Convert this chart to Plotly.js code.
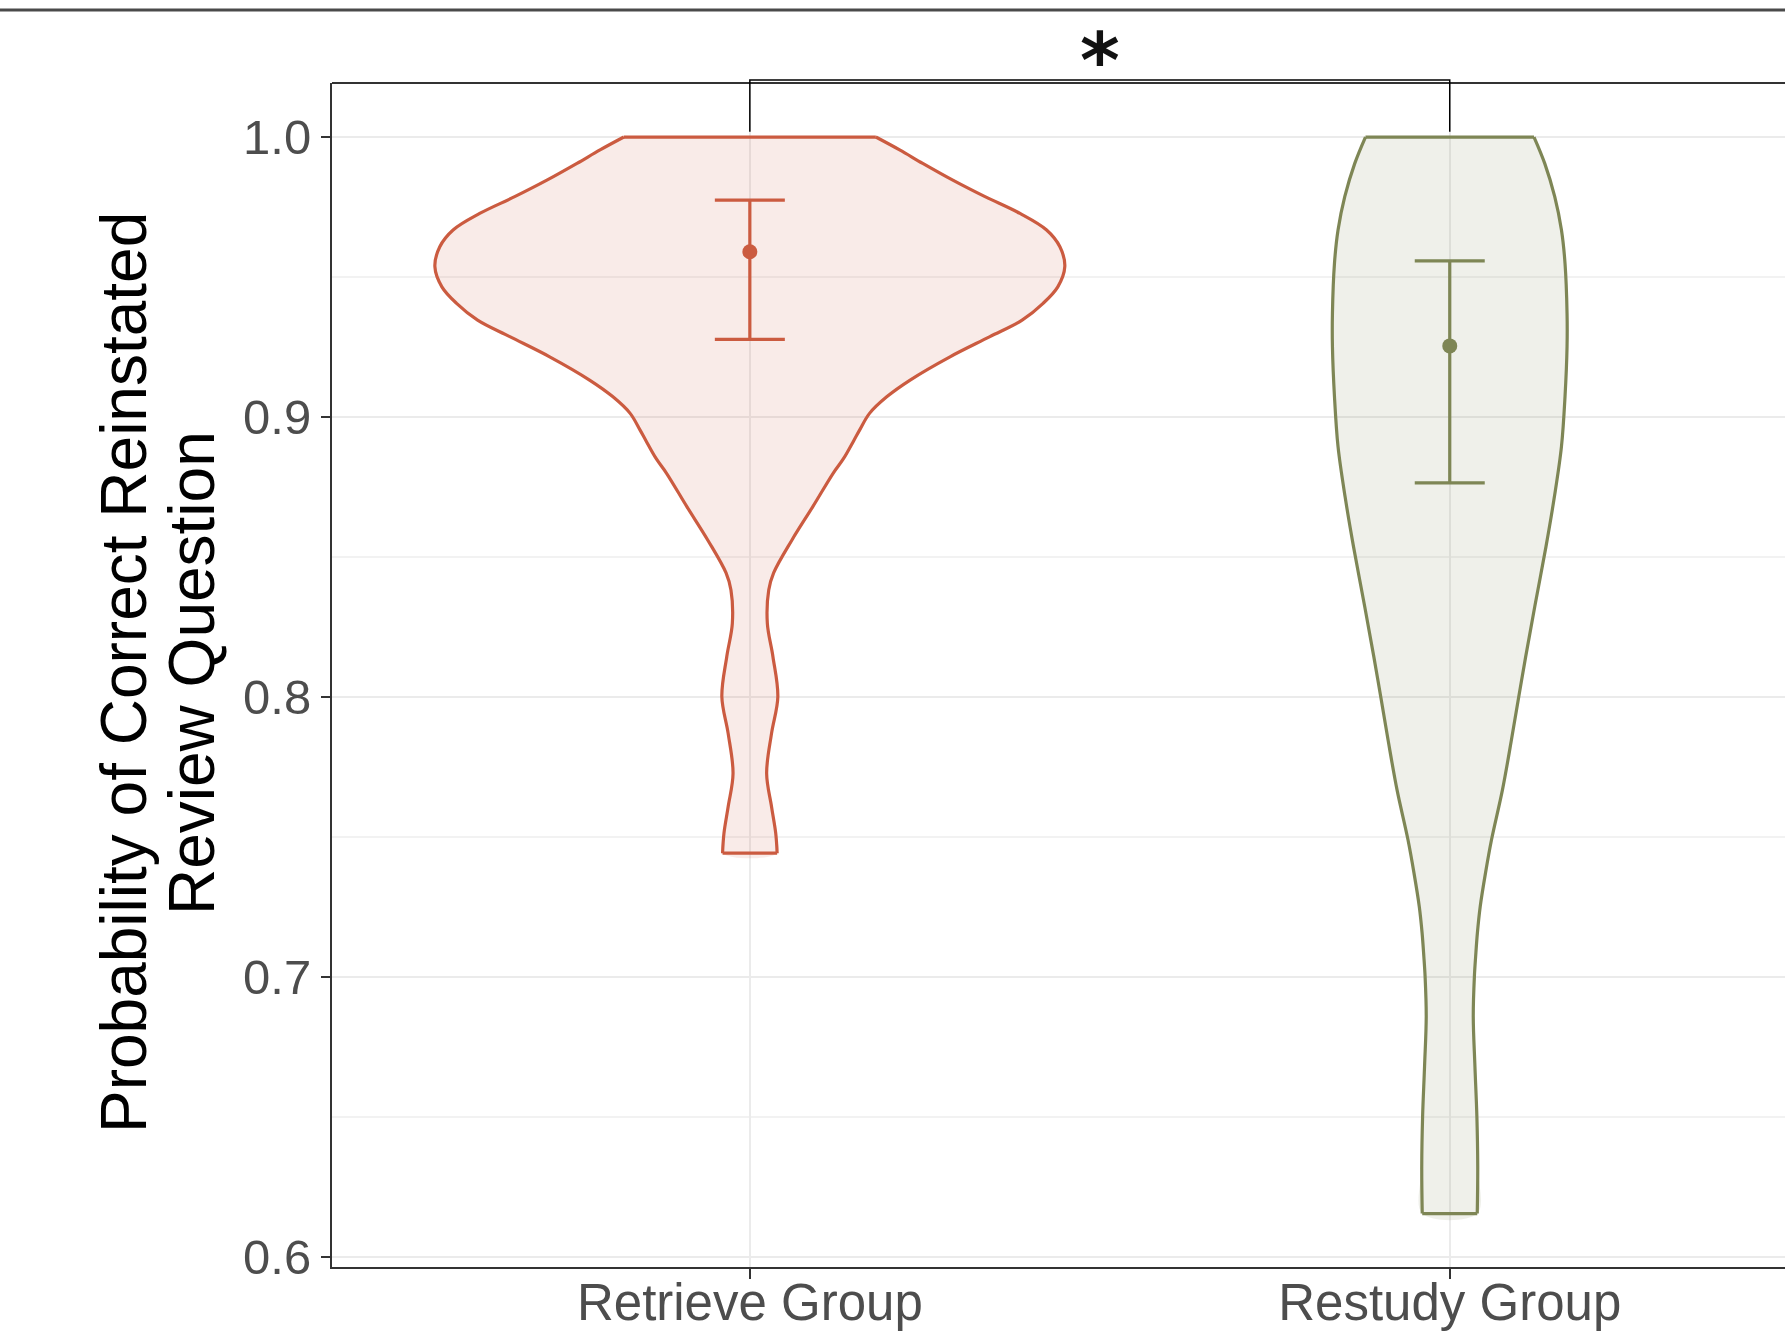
<!DOCTYPE html>
<html>
<head>
<meta charset="utf-8">
<script src="https://cdn.plot.ly/plotly-3.0.1.min.js"></script>
<style>
html,body{margin:0;padding:0;background:#ffffff;overflow:hidden;}
#chart{width:1785px;height:1331px;}
</style>
</head>
<body>
<div id="chart"></div>
<script>
// ---------------- data ----------------
const categories = ['Retrieve Group', 'Restudy Group'];
const groupColors = ['#CB5B40', '#7E8655'];
const groupFills = ['rgba(203,91,64,0.12)', 'rgba(126,134,85,0.12)'];

const means  = [0.959, 0.9254];
const ciLow  = [0.9277, 0.8765];
const ciHigh = [0.9775, 0.9558];

// violin density outline: probability levels and half-widths (x-axis units)
const retrieveLevels = [1.0000, 0.9954, 0.9906, 0.9846, 0.9787, 0.9727, 0.9668, 0.9608, 0.9537,
  0.9465, 0.9406, 0.9346, 0.9287, 0.9215, 0.9132, 0.9073, 0.9013, 0.8954, 0.8918, 0.8852,
  0.8799, 0.8680, 0.8560, 0.8443, 0.8382, 0.8263, 0.8144, 0.8001, 0.7870, 0.7727, 0.7608,
  0.7513, 0.7442];
const retrieveHalfWidth = [0.180, 0.214, 0.247, 0.290, 0.336, 0.386, 0.424, 0.443, 0.450,
  0.440, 0.419, 0.389, 0.343, 0.286, 0.229, 0.196, 0.171, 0.157, 0.149, 0.134,
  0.119, 0.090, 0.060, 0.034, 0.027, 0.025, 0.033, 0.040, 0.031, 0.024, 0.031,
  0.037, 0.039];

const restudyLevels = [1.0000, 0.9906, 0.9787, 0.9668, 0.9549, 0.9370, 0.9251, 0.9073, 0.8894,
  0.8715, 0.8537, 0.8323, 0.8144, 0.8001, 0.7846, 0.7668, 0.7489, 0.7370, 0.7251,
  0.7157, 0.7073, 0.7001, 0.6858, 0.6680, 0.6500, 0.6323, 0.6155];
const restudyHalfWidth = [0.1204, 0.1357, 0.1500, 0.1596, 0.1647, 0.1676, 0.1676, 0.1647, 0.1596,
  0.1495, 0.1375, 0.1215, 0.1085, 0.0986, 0.0881, 0.0753, 0.0596, 0.0510, 0.0435,
  0.0395, 0.0370, 0.0352, 0.0336, 0.0360, 0.0388, 0.0400, 0.0393];

const yTickValues = [0.6, 0.7, 0.8, 0.9, 1.0];
const yMinorValues = [0.65, 0.75, 0.85, 0.95];
const bracketTop = 1.0204;
const bracketBottom = 1.0019;
const sigLabel = '*';
const yTitleLines = ['Probability of Correct Reinstated', 'Review Question'];

// ---------------- chart ----------------
const xRange = [-0.597, 1.479];
const yRange = [0.5964, 1.0193];
const W = 1785, H = 1331;
const M = {l: 332, r: 0, t: 83, b: 64};
const plotW = W - M.l - M.r, plotH = H - M.t - M.b;
const px = v => (v - xRange[0]) / (xRange[1] - xRange[0]);
const py = v => (v - yRange[0]) / (yRange[1] - yRange[0]);
const pageXToPaper = x => (x - M.l) / plotW;
const pageYToPaper = y => (H - M.b - y) / plotH;

// filled body of the violin (no outline)
function violinFill(i, levels, hw) {
  const xs = [], ys = [];
  for (let k = 0; k < levels.length; k++) { xs.push(i - hw[k]); ys.push(levels[k]); }
  for (let k = levels.length - 1; k >= 0; k--) { xs.push(i + hw[k]); ys.push(levels[k]); }
  return {
    type: 'scatter', mode: 'lines', x: xs, y: ys,
    fill: 'toself', fillcolor: groupFills[i],
    line: {color: 'rgba(0,0,0,0)', width: 0, shape: 'spline', smoothing: 1},
    hoverinfo: 'skip', showlegend: false
  };
}

// outline: smooth sides, straight flat ends (separate segments)
function violinOutline(i, levels, hw) {
  const n = levels.length;
  const xs = [], ys = [];
  for (let k = 0; k < n; k++) { xs.push(i - hw[k]); ys.push(levels[k]); }
  xs.push(null); ys.push(null);
  for (let k = 0; k < n; k++) { xs.push(i + hw[k]); ys.push(levels[k]); }
  xs.push(null); ys.push(null);
  xs.push(i - hw[0], i + hw[0]); ys.push(levels[0], levels[0]);
  xs.push(null); ys.push(null);
  xs.push(i - hw[n - 1], i + hw[n - 1]); ys.push(levels[n - 1], levels[n - 1]);
  return {
    type: 'scatter', mode: 'lines', x: xs, y: ys, connectgaps: false,
    line: {color: groupColors[i], width: 3.2, shape: 'spline', smoothing: 1},
    hoverinfo: 'skip', showlegend: false
  };
}

function ciTrace(i) {
  return {
    type: 'scatter', mode: 'markers', x: [i], y: [means[i]],
    marker: {size: 15, color: groupColors[i]},
    error_y: {
      type: 'data', symmetric: false,
      array: [ciHigh[i] - means[i]], arrayminus: [means[i] - ciLow[i]],
      color: groupColors[i], thickness: 3.2, width: 35
    },
    showlegend: false
  };
}

const traces = [
  violinFill(0, retrieveLevels, retrieveHalfWidth),
  violinFill(1, restudyLevels, restudyHalfWidth),
  violinOutline(0, retrieveLevels, retrieveHalfWidth),
  violinOutline(1, restudyLevels, restudyHalfWidth),
  ciTrace(0), ciTrace(1)
];

const fontFam = 'Liberation Sans, Arial, Helvetica, sans-serif';

const layout = {
  width: W, height: H,
  margin: M,
  paper_bgcolor: '#ffffff', plot_bgcolor: '#ffffff',
  font: {family: fontFam, color: '#000'},
  showlegend: false,
  xaxis: {
    range: xRange, tickvals: [0, 1], ticktext: categories,
    ticks: 'outside', ticklen: 10, tickwidth: 2.5, tickcolor: '#333333',
    ticklabelstandoff: -20,
    showgrid: true, gridcolor: '#EBEBEB', gridwidth: 2,
    showline: true, linecolor: '#333333', linewidth: 2,
    zeroline: false, tickfont: {size: 51, color: '#4D4D4D', family: fontFam},
    fixedrange: true
  },
  yaxis: {
    range: yRange, tickvals: yTickValues, ticktext: yTickValues.map(v => v.toFixed(1)),
    ticks: 'outside', ticklen: 9, tickwidth: 2.5, tickcolor: '#333333',
    showgrid: true, gridcolor: '#EBEBEB', gridwidth: 2,
    minor: {tickvals: yMinorValues, showgrid: true, gridcolor: '#F2F2F2', gridwidth: 1.5, ticks: ''},
    showline: true, linecolor: '#333333', linewidth: 2,
    zeroline: false, tickfont: {size: 49, color: '#4D4D4D', family: fontFam},
    fixedrange: true
  },
  shapes: [
    // panel top border
    {type: 'line', xref: 'paper', yref: 'paper', x0: 0, x1: 1, y0: 1, y1: 1,
     line: {color: '#333333', width: 2}},
    // top frame line of the figure
    {type: 'line', xref: 'paper', yref: 'paper', x0: pageXToPaper(0), x1: 1,
     y0: pageYToPaper(10), y1: pageYToPaper(10), line: {color: '#4a4a4a', width: 3}},
    // significance bracket
    {type: 'path', xref: 'paper', yref: 'paper',
     path: 'M ' + px(0) + ',' + py(bracketBottom) + ' L ' + px(0) + ',' + py(bracketTop) +
           ' L ' + px(1) + ',' + py(bracketTop) + ' L ' + px(1) + ',' + py(bracketBottom),
     line: {color: '#000000', width: 1.5}}
  ],
  annotations: [
    {text: '<b>' + sigLabel + '</b>', xref: 'paper', yref: 'paper', x: px(0.5), y: py(1.0275),
     xanchor: 'center', yanchor: 'middle', showarrow: false,
     font: {family: 'DejaVu Sans, sans-serif', size: 76, color: '#111111'}},
    {text: yTitleLines[0], xref: 'paper', yref: 'paper', x: pageXToPaper(124), y: pageYToPaper(673),
     xanchor: 'center', yanchor: 'middle', textangle: -90, showarrow: false,
     font: {family: fontFam, size: 64, color: '#000000'}},
    {text: yTitleLines[1], xref: 'paper', yref: 'paper', x: pageXToPaper(192), y: pageYToPaper(673),
     xanchor: 'center', yanchor: 'middle', textangle: -90, showarrow: false,
     font: {family: fontFam, size: 64, color: '#000000'}}
  ]
};

Plotly.newPlot('chart', traces, layout, {displayModeBar: false, staticPlot: true});
</script>
</body>
</html>
